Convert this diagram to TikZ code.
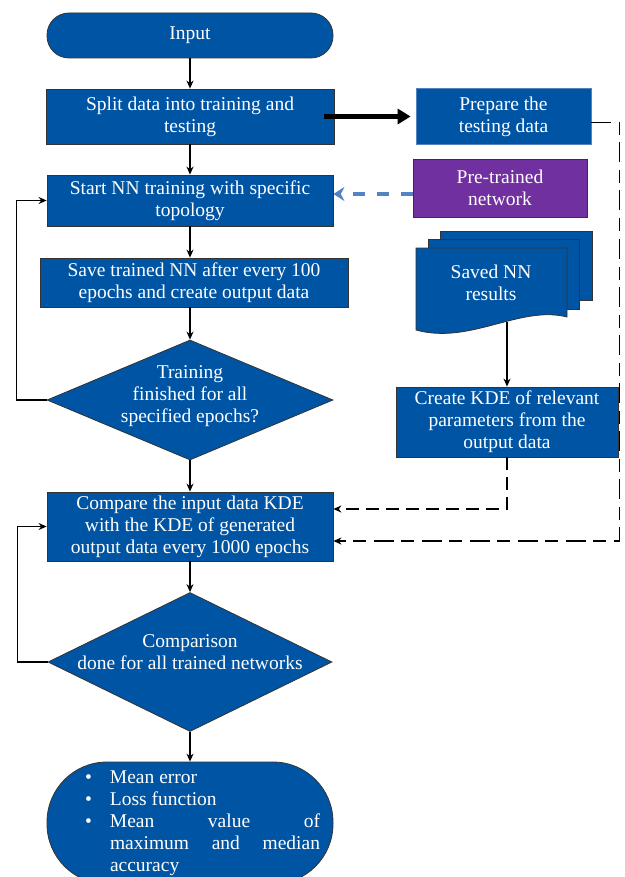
\documentclass[tikz,border=0pt]{standalone}
\usepackage{fontspec}
\setmainfont{Liberation Serif}
\usetikzlibrary{arrows.meta, positioning, calc, shapes.geometric}
\definecolor{nnblue}{RGB}{0,84,164}
\definecolor{nnpurple}{RGB}{112,48,160}
\definecolor{dashblue}{RGB}{84,130,194}
\tikzset{
    procbox/.style={draw=black!80, line width=0.8pt, fill=nnblue, text=white, align=center, inner sep=0pt, font=\fontsize{19.5}{22}\selectfont},
    decision/.style={diamond, draw=black!80, line width=0.8pt, fill=nnblue, inner sep=0pt},
    docshape/.style={draw=black!80, line width=0.8pt, fill=nnblue},
    txt/.style={text=white, align=center, font=\fontsize{19.5}{22}\selectfont},
    flow/.style={-{Stealth[length=8pt,width=7pt]}, line width=1.2pt},
    thickflow/.style={-{Triangle[length=13pt,width=15pt]}, line width=4.5pt},
    dashflow/.style={flow, line width=1.5pt, dash pattern=on 13pt off 7pt},
    blueflow/.style={-{Stealth[length=11pt,width=14pt]}, line width=4pt, dashblue, dash pattern=on 12pt off 12pt}
}

\begin{document}
\begin{tikzpicture}[x=1pt, y=-1pt]
    \useasboundingbox (0,0) rectangle (624,877);
    % Main column
    \node[procbox, rounded corners=22pt, minimum width=286pt, minimum height=45pt] (input) at (190,35.5) {Input};
    \node[procbox, minimum width=288pt, minimum height=55pt] (split) at (190,116.5) {Split data into training and\\testing};
    \node[procbox, minimum width=286pt, minimum height=51pt] (start) at (190,200.5) {Start NN training with specific\\topology};
    \node[procbox, minimum width=308pt, minimum height=49pt] (save) at (194,282.5) {Save trained NN after every 100\\epochs and create output data};
    \node[decision, minimum width=286pt, minimum height=120pt] (d1) at (190,400) {};
    \node[txt] (d1txt) at (190,396) {Training\\finished for all\\specified epochs?};
    \node[procbox, minimum width=286pt, minimum height=69pt] (cmp) at (190,526.5) {Compare the input data KDE\\with the KDE of generated\\output data every 1000 epochs};
    \node[decision, minimum width=284pt, minimum height=139pt] (d2) at (190,662) {};
    \node[txt] (d2txt) at (190,652) {Comparison\\done for all trained networks};
    \node[procbox, rounded corners=60pt, minimum width=286pt, minimum height=122pt, align=left] (out) at (190,823) {%
        \hspace*{25pt}\makebox[25pt][l]{\textbullet}Mean error\\
        \hspace*{25pt}\makebox[25pt][l]{\textbullet}Loss function\\
        \hspace*{25pt}\makebox[25pt][l]{\textbullet}\makebox[210pt][s]{Mean value of}\\
        \hspace*{50pt}\makebox[210pt][s]{maximum and median}\\
        \hspace*{50pt}accuracy};
    % Right column
    \node[procbox, draw=dashblue, minimum width=175pt, minimum height=56pt] (prep) at (503.5,116.5) {Prepare the\\testing data};
    \node[procbox, fill=nnpurple, minimum width=174pt, minimum height=58pt] (pre) at (500,188) {Pre-trained\\network};
    \filldraw[docshape] (440,231) rectangle (592,300);
    \filldraw[docshape] (428,239) rectangle (579,309);
    \filldraw[docshape] (416,248) -- (567,248) -- (567,317) .. controls (520,305) and (470,345) .. (416,330) -- cycle;
    \node[txt] (saved) at (491,283) {Saved NN\\results};
    \coordinate (savedbot) at (507,322);
    \node[procbox, minimum width=222pt, minimum height=70pt] (kde) at (507,422) {Create KDE of relevant\\parameters from the\\output data};
    % Connectors
    \draw[flow] (input) -- (split);
    \draw[flow] (split) -- (start);
    \draw[flow] (start.south) -- (start.south |- save.north);
    \draw[flow] (save.south -| d1.north) -- (d1.north);
    \draw[flow] (d1.south) -- (cmp.north);
    \draw[flow] (cmp.south) -- (d2.north);
    \draw[flow] (d2.south) -- (out.north);
    \draw[flow] (d1.west) -- ++(-30,0) |- (start.west);
    \draw[flow] (d2.west) -- ++(-30,0) |- (cmp.west);
    \draw[thickflow, shorten <=-10pt, shorten >=5pt] (split.east) -- (prep.west);
    \draw[blueflow] ($(pre.west)+(0,6)$) -- ($(start.east)+(0,-6.5)$);
    \draw[flow] (savedbot) -- (kde.north);
    \draw[dashflow] (kde.south) |- ($(cmp.east)+(0,-17.5)$);
    \draw[dashflow, dash pattern=on 20pt off 8pt on 13pt off 7pt] ($(prep.east)+(0,6)$) -- ++(28,0) |- ($(cmp.east)+(0,14.5)$);
\end{tikzpicture}
\end{document}
